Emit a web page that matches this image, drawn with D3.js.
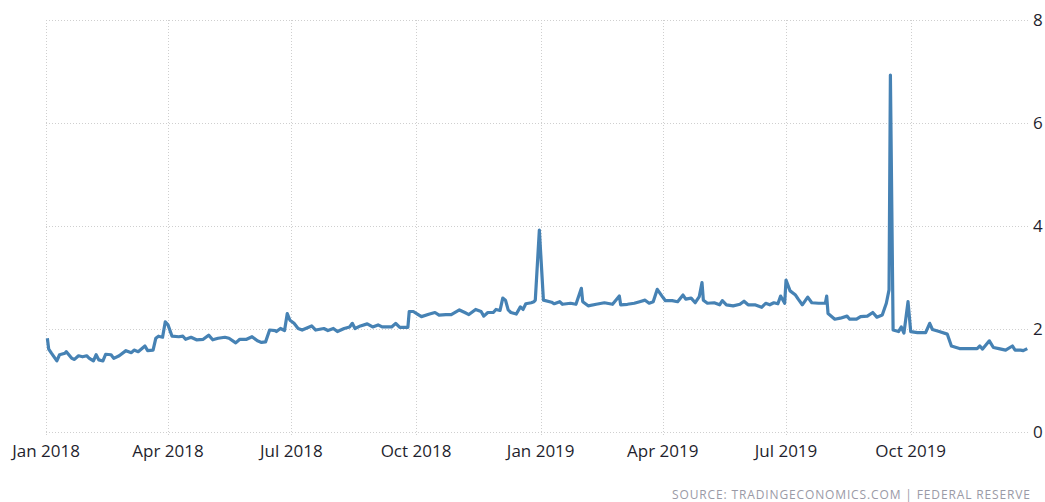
<!DOCTYPE html>
<html>
<head>
<meta charset="utf-8">
<script src="https://cdn.jsdelivr.net/npm/d3@7"></script>
<style>
    html, body { margin: 0; padding: 0; background: #fff; }
    svg text { font-family: "Open Sans", "Noto Sans", sans-serif; }
</style>
</head>
<body>
<div id="chart"></div>
<script>
const dates2018 = [
    "2018-01-02", "2018-01-03", "2018-01-05", "2018-01-09", "2018-01-11", "2018-01-15", "2018-01-16", "2018-01-20",
    "2018-01-22", "2018-01-25", "2018-01-28", "2018-01-31", "2018-02-02", "2018-02-05", "2018-02-07", "2018-02-09",
    "2018-02-12", "2018-02-14", "2018-02-18", "2018-02-20", "2018-02-24", "2018-03-01", "2018-03-05", "2018-03-07",
    "2018-03-10", "2018-03-15", "2018-03-17", "2018-03-21", "2018-03-23", "2018-03-25", "2018-03-28", "2018-03-30",
    "2018-04-01", "2018-04-04", "2018-04-09", "2018-04-12", "2018-04-14", "2018-04-18", "2018-04-22", "2018-04-27",
    "2018-05-01", "2018-05-04", "2018-05-08", "2018-05-13", "2018-05-16", "2018-05-21", "2018-05-24", "2018-05-29",
    "2018-06-02", "2018-06-06", "2018-06-09", "2018-06-12", "2018-06-15", "2018-06-19", "2018-06-20", "2018-06-23",
    "2018-06-26", "2018-06-28", "2018-06-30", "2018-07-03", "2018-07-06", "2018-07-09", "2018-07-16", "2018-07-19",
    "2018-07-25", "2018-07-28", "2018-08-01", "2018-08-04", "2018-08-09", "2018-08-13", "2018-08-15", "2018-08-17",
    "2018-08-21", "2018-08-26", "2018-08-30", "2018-09-03", "2018-09-06", "2018-09-13", "2018-09-16", "2018-09-19",
    "2018-09-25", "2018-09-26", "2018-09-29", "2018-10-02", "2018-10-05", "2018-10-11", "2018-10-15", "2018-10-18",
    "2018-10-23", "2018-10-27", "2018-11-02", "2018-11-06", "2018-11-09", "2018-11-14", "2018-11-18", "2018-11-20",
    "2018-11-23", "2018-11-27", "2018-11-29", "2018-12-02", "2018-12-04", "2018-12-06", "2018-12-08", "2018-12-10",
    "2018-12-14", "2018-12-17", "2018-12-19", "2018-12-21", "2018-12-25", "2018-12-27", "2018-12-28", "2018-12-31"
]
const rates2018 = [
    1.82, 1.61, 1.53, 1.38, 1.50, 1.53, 1.56, 1.43,
    1.41, 1.48, 1.46, 1.48, 1.43, 1.38, 1.50, 1.40,
    1.38, 1.51, 1.50, 1.43, 1.48, 1.58, 1.54, 1.59,
    1.56, 1.67, 1.58, 1.59, 1.82, 1.86, 1.84, 2.14,
    2.08, 1.86, 1.85, 1.86, 1.80, 1.84, 1.79, 1.80,
    1.88, 1.79, 1.82, 1.84, 1.82, 1.73, 1.80, 1.80,
    1.85, 1.77, 1.74, 1.75, 1.98, 1.97, 1.95, 2.01,
    1.97, 2.30, 2.17, 2.11, 2.01, 1.98, 2.06, 1.98,
    2.01, 1.97, 2.01, 1.95, 2.01, 2.04, 2.11, 2.01,
    2.06, 2.10, 2.04, 2.08, 2.04, 2.04, 2.11, 2.03,
    2.03, 2.34, 2.34, 2.29, 2.24, 2.29, 2.32, 2.27,
    2.28, 2.28, 2.37, 2.32, 2.28, 2.38, 2.34, 2.25,
    2.32, 2.32, 2.38, 2.36, 2.60, 2.56, 2.37, 2.32,
    2.29, 2.43, 2.38, 2.49, 2.51, 2.53, 2.56, 3.92
]

const dates2019 = [
    "2019-01-03", "2019-01-09", "2019-01-11", "2019-01-15", "2019-01-17", "2019-01-23", "2019-01-27", "2019-01-31",
    "2019-02-01", "2019-02-05", "2019-02-11", "2019-02-17", "2019-02-23", "2019-02-28", "2019-03-01", "2019-03-06",
    "2019-03-11", "2019-03-15", "2019-03-19", "2019-03-22", "2019-03-25", "2019-03-28", "2019-04-01", "2019-04-03",
    "2019-04-08", "2019-04-12", "2019-04-16", "2019-04-18", "2019-04-22", "2019-04-25", "2019-04-28", "2019-04-30",
    "2019-05-01", "2019-05-04", "2019-05-09", "2019-05-13", "2019-05-15", "2019-05-18", "2019-05-23", "2019-05-28",
    "2019-05-31", "2019-06-03", "2019-06-08", "2019-06-13", "2019-06-16", "2019-06-19", "2019-06-22", "2019-06-25",
    "2019-06-27", "2019-06-30", "2019-07-01", "2019-07-04", "2019-07-08", "2019-07-10", "2019-07-13", "2019-07-17",
    "2019-07-20", "2019-07-25", "2019-07-30", "2019-07-31", "2019-08-01", "2019-08-06", "2019-08-10", "2019-08-15",
    "2019-08-17", "2019-08-22", "2019-08-25", "2019-08-30", "2019-09-03", "2019-09-06", "2019-09-10", "2019-09-13",
    "2019-09-15", "2019-09-16", "2019-09-18", "2019-09-22", "2019-09-24", "2019-09-26", "2019-09-29", "2019-10-01",
    "2019-10-06", "2019-10-12", "2019-10-15", "2019-10-17", "2019-10-22", "2019-10-28", "2019-10-31", "2019-11-06",
    "2019-11-13", "2019-11-19", "2019-11-21", "2019-11-23", "2019-11-28", "2019-12-01", "2019-12-05", "2019-12-10",
    "2019-12-15", "2019-12-17", "2019-12-21", "2019-12-23", "2019-12-26"
]
const rates2019 = [
    2.56, 2.52, 2.49, 2.53, 2.48, 2.50, 2.48, 2.79,
    2.53, 2.45, 2.48, 2.51, 2.48, 2.64, 2.47, 2.48,
    2.50, 2.53, 2.56, 2.50, 2.53, 2.77, 2.62, 2.55,
    2.55, 2.53, 2.66, 2.58, 2.60, 2.51, 2.63, 2.90,
    2.56, 2.50, 2.51, 2.47, 2.55, 2.47, 2.45, 2.48,
    2.54, 2.47, 2.47, 2.42, 2.50, 2.47, 2.51, 2.49,
    2.64, 2.50, 2.95, 2.74, 2.66, 2.58, 2.47, 2.62,
    2.51, 2.50, 2.50, 2.64, 2.30, 2.19, 2.21, 2.25,
    2.19, 2.19, 2.24, 2.25, 2.32, 2.23, 2.27, 2.50,
    2.76, 6.93, 1.98, 1.95, 2.04, 1.92, 2.53, 1.95,
    1.93, 1.93, 2.11, 1.99, 1.95, 1.90, 1.67, 1.62,
    1.62, 1.62, 1.67, 1.61, 1.77, 1.64, 1.62, 1.59,
    1.67, 1.59, 1.59, 1.58, 1.62
]

const yTicks = [0, 2, 4, 6, 8]
const sourceLabel = "SOURCE: TRADINGECONOMICS.COM | FEDERAL RESERVE"

const W = 1045, H = 502
const margin = {left: 46, right: 1030, top: 20, bottom: 432}

const parse = d3.timeParse("%Y-%m-%d")
const allRates = rates2018.concat(rates2019)
const data = dates2018.concat(dates2019).map((d, i) => ({
    date: parse(d),
    value: allRates[i]
}))

const svg = d3.select("#chart")
    .append("svg")
    .attr("width", W)
    .attr("height", H)

const x = d3.scaleTime()
    .domain([new Date(2018, 0, 1), new Date(2019, 11, 28)])
    .range([margin.left, margin.right])

const y = d3.scaleLinear()
    .domain([0, 8])
    .range([margin.bottom, margin.top])

const xTicks = x.ticks(d3.timeMonth.every(3))

// grid
const grid = svg.append("g")
    .attr("stroke", "#cfcfcf")
    .attr("stroke-width", 1)
    .attr("stroke-dasharray", "1,2")
    .attr("shape-rendering", "crispEdges")

grid.selectAll(".hgrid")
    .data(yTicks)
    .enter()
    .append("line")
    .attr("x1", margin.left)
    .attr("x2", margin.right)
    .attr("y1", d => Math.round(y(d)) + 0.5)
    .attr("y2", d => Math.round(y(d)) + 0.5)

grid.selectAll(".vgrid")
    .data(xTicks)
    .enter()
    .append("line")
    .attr("x1", d => Math.round(x(d)) + 0.5)
    .attr("x2", d => Math.round(x(d)) + 0.5)
    .attr("y1", margin.top)
    .attr("y2", margin.bottom + 5)

// axes labels
svg.append("g")
    .selectAll("text")
    .data(xTicks)
    .enter()
    .append("text")
    .attr("x", d => x(d))
    .attr("y", 457)
    .attr("text-anchor", "middle")
    .attr("fill", "#1f1f2e")
    .style("font-size", "17px")
    .text(d3.timeFormat("%b %Y"))

svg.append("g")
    .selectAll("text")
    .data(yTicks)
    .enter()
    .append("text")
    .attr("x", 1033)
    .attr("y", d => y(d))
    .attr("dy", "0.35em")
    .attr("fill", "#1f1f2e")
    .style("font-size", "17px")
    .text(d => d)

// series
const line = d3.line()
    .x(d => x(d.date))
    .y(d => y(d.value))

svg.append("path")
    .datum(data)
    .attr("fill", "none")
    .attr("stroke", "#4682b4")
    .attr("stroke-width", 3.2)
    .attr("stroke-linejoin", "round")
    .attr("d", line)

svg.append("text")
    .attr("x", 1030)
    .attr("y", 499)
    .attr("text-anchor", "end")
    .attr("fill", "#9a9aa6")
    .attr("textLength", 358)
    .attr("lengthAdjust", "spacing")
    .style("font-size", "12px")
    .text(sourceLabel)
</script>
</body>
</html>
